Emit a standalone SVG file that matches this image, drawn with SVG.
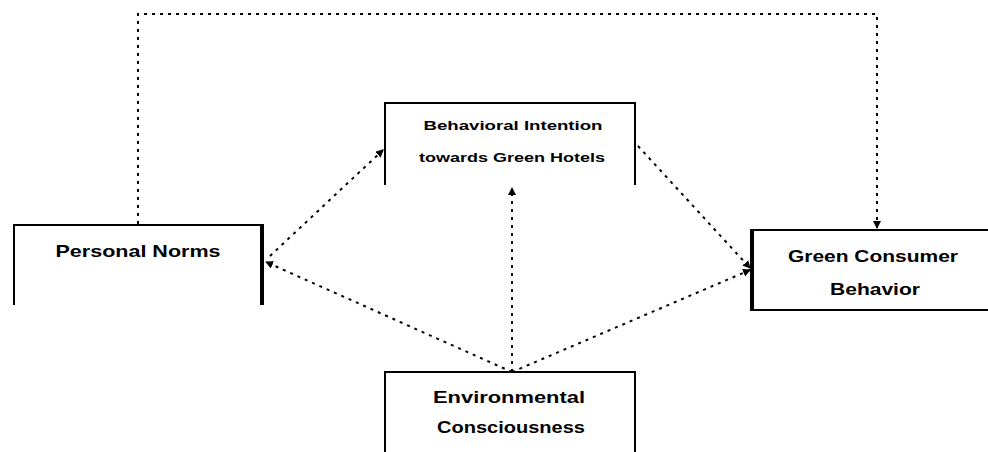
<svg xmlns="http://www.w3.org/2000/svg" width="988" height="452" viewBox="0 0 988 452">
<style>
.box{fill:none;stroke:#000;stroke-width:2}
.thick{stroke:#000;stroke-width:4;fill:none}
.t{font-family:"Liberation Sans",Arial,sans-serif;font-weight:bold;fill:#000;text-anchor:middle}
.lg{font-size:17px}
.sm{font-size:13px}
.c{fill:none;stroke:#000;stroke-width:2;stroke-dasharray:3 5}
</style>
<defs>
<marker id="ah" markerWidth="8" markerHeight="8" refX="7" refY="4" orient="auto" markerUnits="userSpaceOnUse">
<path d="M0,0 L8,4 L0,8 Z" fill="#000"/>
</marker>
</defs>
<rect width="988" height="452" fill="#fff"/>
<g id="connectors">
<path class="c" d="M138,224 V14 H877 V228" marker-end="url(#ah)"/>
<path class="c" d="M512,372 V188" marker-end="url(#ah)"/>
<path class="c" d="M512,372 L266,262" marker-end="url(#ah)"/>
<path class="c" d="M512,372 L750,270" marker-end="url(#ah)"/>
<path class="c" d="M270,256 L383,150" marker-end="url(#ah)"/>
<path class="c" d="M638,146 L750,268" marker-end="url(#ah)"/>
</g>
<g id="personal-norms">
<path class="box" d="M14,305 V225 H262"/>
<path class="thick" d="M262,224 V305"/>
<text class="t lg" x="138" y="257" textLength="165" lengthAdjust="spacingAndGlyphs">Personal Norms</text>
</g>
<g id="behavioral-intention">
<path class="box" d="M385,185 V103 H635 V185"/>
<text class="t sm" x="513" y="130" textLength="179" lengthAdjust="spacingAndGlyphs">Behavioral Intention</text>
<text class="t sm" x="512" y="162" textLength="186" lengthAdjust="spacingAndGlyphs">towards Green Hotels</text>
</g>
<g id="green-consumer-behavior">
<path class="box" d="M990,230 H752 M752,310 H990"/>
<path class="thick" d="M752,229 V311"/>
<text class="t lg" x="873" y="262" textLength="170" lengthAdjust="spacingAndGlyphs">Green Consumer</text>
<text class="t lg" x="875" y="295" textLength="90" lengthAdjust="spacingAndGlyphs">Behavior</text>
</g>
<g id="environmental-consciousness">
<path class="box" d="M385,454 V372 H635 V454"/>
<text class="t lg" x="509" y="403" textLength="152" lengthAdjust="spacingAndGlyphs">Environmental</text>
<text class="t lg" x="511" y="433" textLength="148" lengthAdjust="spacingAndGlyphs">Consciousness</text>
</g>
</svg>
